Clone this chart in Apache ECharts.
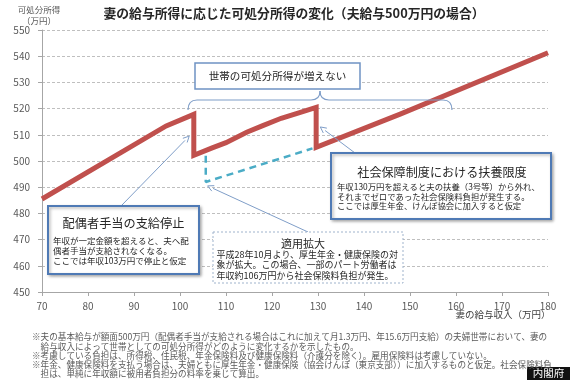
<!DOCTYPE html>
<html><head><meta charset="utf-8">
<script src="https://cdn.jsdelivr.net/npm/echarts@6/dist/echarts.min.js"></script>
<style>html,body{margin:0;padding:0;background:#fff}#c{width:570px;height:380px}</style>
</head><body><div id="c"></div>
<script>
// ---- data ----
const incomeX    = [70, 97, 103, 103, 107, 110, 114.5, 118, 122, 126, 129.6, 129.6, 148, 180];
const disposable = [485.5, 513.4, 517.8, 502.2, 505, 507, 511, 513.5, 516.3, 518.5, 520.5, 505.2, 518, 541.3];
const scenarioX  = [105.6, 105.6, 128.8];
const scenarioY  = [502, 492, 504.8];
const yMin = 450, yMax = 550, yStep = 10;
const xMin = 70, xMax = 180, xStep = 10;
const titleText = '妻の給与所得に応じた可処分所得の変化（夫給与500万円の場合）';
const yName = ['可処分所得', '（万円）'];
const xName = '妻の給与収入（万円）';
const notes = [
  '※夫の基本給与が額面500万円（配偶者手当が支給される場合はこれに加えて月1.3万円、年15.6万円支給）の夫婦世帯において、妻の',
  '　給与収入によって世帯としての可処分所得がどのように変化するかを示したもの。',
  '※考慮している負担は、所得税、住民税、年金保険料及び健康保険料（介護分を除く）。雇用保険料は考慮していない。',
  '※年金、健康保険料を支払う場合は、夫婦ともに厚生年金・健康保険（協会けんぽ（東京支部））に加入するものと仮定。社会保険料負',
  '　担は、単純に年収額に被用者負担分の料率を乗じて算出。'
];
const boxNoIncrease = '世帯の可処分所得が増えない';
const boxSpouseTitle = '配偶者手当の支給停止';
const boxSpouseBody = ['年収が一定金額を超えると、夫へ配', '偶者手当が支給されなくなる。', 'ここでは年収103万円で停止と仮定'];
const boxSocialTitle = '社会保障制度における扶養限度';
const boxSocialBody = ['年収130万円を超えると夫の扶養（3号等）から外れ、', 'それまでゼロであった社会保険料負担が発生する。', 'ここでは厚生年金、けんぽ協会に加入すると仮定'];
const boxExpandTitle = '適用拡大';
const boxExpandBody = ['平成28年10月より、厚生年金・健康保険の対', '象が拡大。この場合、一部のパート労働者は', '年収約106万円から社会保険料負担が発生。'];
const sourceText = '内閣府';
const arrowTargets = [[102, 509.5], [130.5, 513], [106, 490.5]];

const FF = "'Noto Sans CJK JP','Noto Sans',sans-serif";
const chart = echarts.init(document.getElementById('c'), null, {renderer:'canvas'});

function txt(t, x, y, size, opts) {
  opts = opts || {};
  return { type:'text', z:100, style:{ text:t, x:x, y:y,
    font:(opts.bold?'bold ':'') + size + 'px ' + FF,
    fill:opts.fill || '#404040',
    textAlign:opts.align || 'left', align:opts.align || 'left',
    textVerticalAlign:'middle', verticalAlign:'middle' } };
}
function rect(x, y, w, h, stroke, lw, opts) {
  opts = opts || {};
  return { type:'rect', z:90, shape:{x:x, y:y, width:w, height:h},
    style:{ fill:'#fff', stroke:stroke, lineWidth:lw, lineDash:opts.dash || null,
      shadowBlur:opts.shadow ? 3 : 0, shadowColor:'rgba(0,0,0,0.3)', shadowOffsetX:opts.shadow?1.5:0, shadowOffsetY:opts.shadow?1.5:0 } };
}

const pairs = incomeX.map((x,i)=>[x, disposable[i]]);
const dpairs = scenarioX.map((x,i)=>[x, scenarioY[i]]);

const option = {
  animation:false,
  backgroundColor:'#fff',
  grid:{ left:42, right:22, top:30, bottom:88, containLabel:false },
  xAxis:{ type:'value', min:xMin, max:xMax, interval:xStep,
    axisLine:{ lineStyle:{ color:'#a6a6a6', width:1 } },
    axisTick:{ show:true, length:4, inside:false, lineStyle:{ color:'#a6a6a6' } },
    axisLabel:{ color:'#595959', fontSize:10, fontFamily:FF, margin:9 },
    splitLine:{ show:false } },
  yAxis:{ type:'value', min:yMin, max:yMax, interval:yStep,
    axisLine:{ show:true, lineStyle:{ color:'#a6a6a6', width:1 } },
    axisTick:{ show:true, length:4, lineStyle:{ color:'#a6a6a6' } },
    axisLabel:{ color:'#595959', fontSize:10, fontFamily:FF, margin:12 },
    splitLine:{ show:true, lineStyle:{ color:'#bfbfbf', type:[3,2], width:1 } } },
  series:[
    { type:'line', data:pairs, symbol:'none', z:5,
      lineStyle:{ color:'#c0504d', width:5, join:'miter' } },
    { type:'line', data:dpairs, symbol:'none', z:4,
      lineStyle:{ color:'#4bacc6', width:2.5, type:[7,5] } }
  ]
};
chart.setOption(option);

const AC = '#7f9ec8';
function arrow(x1, y1, x2, y2) {
  const ang = Math.atan2(y2 - y1, x2 - x1), L = 6, W = 3;
  const bx = x2 - L*Math.cos(ang), by = y2 - L*Math.sin(ang);
  const px = -Math.sin(ang), py = Math.cos(ang);
  return [
    { type:'line', z:80, shape:{x1:x1, y1:y1, x2:bx, y2:by}, style:{ stroke:AC, lineWidth:1 } },
    { type:'polyline', z:80, shape:{ points:[[bx+px*W, by+py*W],[x2,y2],[bx-px*W, by-py*W]] }, style:{ stroke:AC, lineWidth:1, fill:null } }
  ];
}
function curve(x1,y1,cx,cy,x2,y2){
  return { type:'bezierCurve', z:80, shape:{x1:x1,y1:y1,x2:x2,y2:y2,cpx1:cx,cpy1:cy}, style:{stroke:AC, lineWidth:1.2, fill:null} };
}
function seg(x1,y1,x2,y2){
  return { type:'line', z:80, shape:{x1:x1,y1:y1,x2:x2,y2:y2}, style:{stroke:AC, lineWidth:1.2} };
}

const g = [];
// title
g.push(txt(titleText, 294, 13, 12.8, {bold:true, align:'center', fill:'#262626'}));
g.push(txt(yName[0], 39, 10, 8.5, {align:'center', fill:'#595959'}));
g.push(txt(yName[1], 39, 21, 8.5, {align:'center', fill:'#595959'}));
g.push(txt(xName, 503, 314, 9.5, {align:'center', fill:'#404040'}));

// arrows
const starts = [[122, 205], [355, 153], [308, 232]];
arrowTargets.forEach((t, i) => {
  const p = chart.convertToPixel({gridIndex:0}, t);
  arrow(starts[i][0], starts[i][1], p[0], p[1]).forEach(e => g.push(e));
});

// brace
g.push(curve(188,110,188,100,197,100));
g.push(seg(197,100,311,100));
g.push(curve(311,100,320,100,320,91));
g.push(curve(320,91,320,100,329,100));
g.push(seg(329,100,443,100));
g.push(curve(443,100,452,100,452,110));

// box: no increase
g.push(rect(195, 63, 165, 26, '#6f93c3', 1.5));
g.push(txt(boxNoIncrease, 277.5, 76, 10.6, {align:'center', fill:'#262626'}));

// box: spouse allowance
g.push(rect(48, 206, 151, 68, '#4f7ab5', 2, {shadow:true}));
g.push(txt(boxSpouseTitle, 123.5, 223, 12.2, {align:'center', fill:'#262626'}));
boxSpouseBody.forEach((t,i)=>g.push(txt(t, 53, 241 + i*9.8, 8.5, {fill:'#262626'})));

// box: social security
g.push(rect(331, 153, 220, 66, '#4f7ab5', 2, {shadow:true}));
g.push(txt(boxSocialTitle, 442, 172, 12.1, {align:'center', fill:'#262626'}));
boxSocialBody.forEach((t,i)=>g.push(txt(t, 337, 187 + i*9.6, 8.4, {fill:'#262626'})));

// box: expansion
g.push(rect(213, 232, 190, 51, '#9fb3cc', 1, {dash:[2,2]}));
g.push(txt(boxExpandTitle, 303, 243.5, 11, {align:'center', fill:'#262626'}));
boxExpandBody.forEach((t,i)=>g.push(txt(t, 216.5, 254.5 + i*10.4, 9, {fill:'#262626'})));

// notes
const noteY = [336.5, 346.5, 355.5, 364.5, 373.5];
notes.forEach((t,i)=>g.push(txt(t, 32, noteY[i], 8.6, {fill:'#595959'})));

// source label
g.push({ type:'rect', z:95, shape:{x:527, y:367, width:43, height:13}, style:{ fill:'#111' } });
g.push(txt(sourceText, 548.5, 373.5, 10.5, {align:'center', fill:'#fff'}));

chart.setOption({ graphic:{ elements:g } });
</script>
</body></html>
